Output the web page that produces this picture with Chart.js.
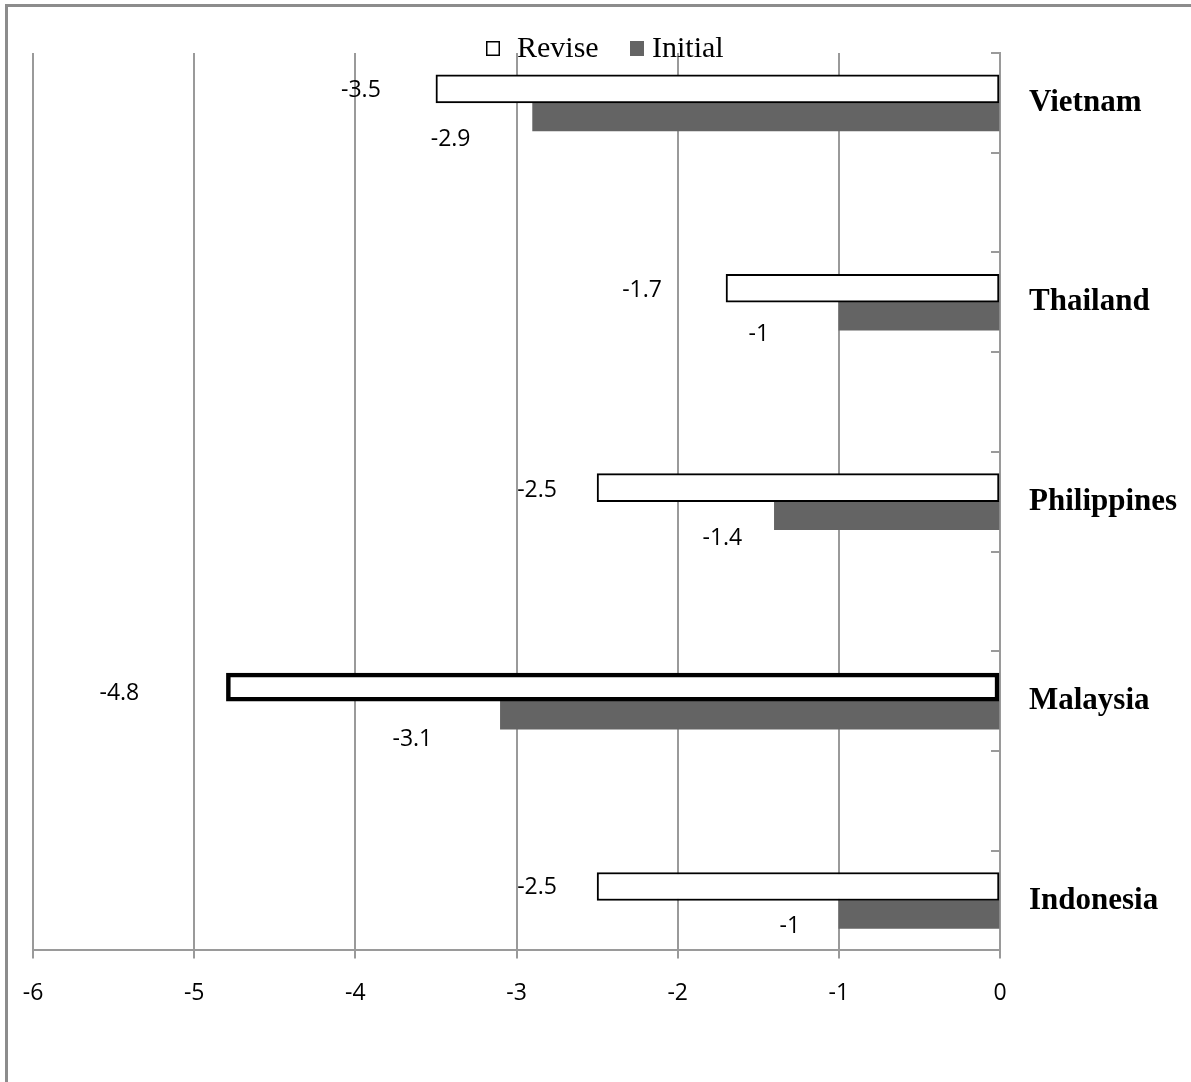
<!DOCTYPE html>
<html><head><meta charset="utf-8">
<script src="https://cdn.jsdelivr.net/npm/chart.js@4.4.1/dist/chart.umd.min.js"></script>
<style>
html,body{margin:0;padding:0;background:#fff;overflow:hidden;width:1191px;height:1082px;}
#c{position:absolute;left:0;top:0;}
#frame{position:absolute;left:5px;top:4px;width:1400px;height:1400px;border-left:3px solid #8c8c8c;border-top:3px solid #8c8c8c;pointer-events:none;}
</style></head><body>
<canvas id="c" width="1191" height="1082"></canvas>
<div id="frame"></div>
<script>
// ---- data ----
const countries = ['Vietnam', 'Thailand', 'Philippines', 'Malaysia', 'Indonesia'];
const reviseValues = [-3.5, -1.7, -2.5, -4.8, -2.5];
const initialValues = [-2.9, -1, -1.4, -3.1, -1];
const xTickValues = [-6, -5, -4, -3, -2, -1, 0];
const seriesNames = ['Revise', 'Initial'];
const highlightedCountry = 'Malaysia';

// ---- label placement (style: offsets from bar end / bar centre) ----
const reviseLabelOffsets = [[-75, 2], [-84, 2], [-60, 3], [-107, 6], [-60, 1]];
const initialLabelOffsets = [[-82, 23], [-80, 18], [-52, 23], [-88, 24], [-49, 12]];

// spread categories with blank slots in between (as in the original axis)
const slotLabels = [], reviseSlots = [], initialSlots = [], slotCountry = [];
countries.forEach((c, i) => {
  if (i > 0) { slotLabels.push(''); reviseSlots.push(null); initialSlots.push(null); slotCountry.push(-1); }
  slotLabels.push(c); reviseSlots.push(reviseValues[i]); initialSlots.push(initialValues[i]); slotCountry.push(i);
});

const GRID = '#9a9a9a';

const frameTicks = {
  id: 'frameTicks',
  afterDraw(chart) {
    const y = chart.scales.y, ctx = chart.ctx, n = slotLabels.length;
    ctx.save();
    ctx.strokeStyle = GRID; ctx.lineWidth = 2;
    for (let i = 0; i <= n; i++) {
      const py = Math.round(y.top + i * (y.bottom - y.top) / n);
      ctx.beginPath(); ctx.moveTo(y.left - 9, py); ctx.lineTo(y.left, py); ctx.stroke();
    }
    ctx.restore();
  }
};

const dataLabels = {
  id: 'dataLabels',
  afterDatasetsDraw(chart) {
    const ctx = chart.ctx;
    ctx.save();
    ctx.font = '23px "Open Sans"';
    ctx.fillStyle = '#000';
    ctx.textAlign = 'center';
    ctx.textBaseline = 'middle';
    chart.data.datasets.forEach((ds, di) => {
      const meta = chart.getDatasetMeta(di);
      const offs = di === 0 ? reviseLabelOffsets : initialLabelOffsets;
      meta.data.forEach((el, idx) => {
        const v = ds.data[idx];
        if (v === null) return;
        const o = offs[slotCountry[idx]];
        ctx.fillText(String(v), el.x + o[0], el.y + o[1]);
      });
    });
    ctx.restore();
  }
};

const customLegend = {
  id: 'customLegend',
  afterDraw(chart) {
    const ctx = chart.ctx;
    const boxX = [486, 630], textGap = [17, 8];
    ctx.save();
    ctx.font = '30px "Liberation Serif"';
    ctx.textBaseline = 'alphabetic';
    ctx.textAlign = 'left';
    chart.data.datasets.forEach((ds, i) => {
      const bx = boxX[i];
      ctx.fillStyle = ds.backgroundColor;
      ctx.fillRect(bx, 41, 14, 15);
      if (i === 0) { ctx.strokeStyle = '#000'; ctx.lineWidth = 1.5; ctx.strokeRect(bx + 0.75, 41.75, 12.5, 13.5); }
      ctx.fillStyle = '#000';
      ctx.fillText(ds.label, bx + 14 + textGap[i], 57);
    });
    ctx.restore();
  }
};

new Chart(document.getElementById('c'), {
  type: 'bar',
  data: {
    labels: slotLabels,
    datasets: [
      {
        label: seriesNames[0], data: reviseSlots,
        backgroundColor: '#ffffff', borderColor: '#000000',
        borderWidth: ctx => (slotLabels[ctx.dataIndex] === highlightedCountry ? 4.5 : 2),
        borderSkipped: false, barThickness: 28
      },
      {
        label: seriesNames[1], data: initialSlots,
        backgroundColor: '#646464', borderWidth: 0, barThickness: 28
      }
    ]
  },
  options: {
    indexAxis: 'y',
    responsive: false,
    animation: false,
    layout: { padding: { top: 53, left: 33, right: 0, bottom: 54 } },
    plugins: { legend: { display: false }, tooltip: { enabled: false } },
    scales: {
      x: {
        type: 'linear', min: -6, max: 0,
        afterBuildTicks: s => { s.ticks = xTickValues.map(v => ({ value: v })); },
        ticks: { font: { family: 'Open Sans', size: 23 }, color: '#000', padding: 21 },
        grid: { color: GRID, lineWidth: 2, tickLength: 8, drawTicks: true },
        border: { color: GRID, width: 2 }
      },
      y: {
        type: 'category', position: 'right', offset: true,
        grid: { display: false, drawTicks: false },
        border: { display: true, color: GRID, width: 2 },
        ticks: { autoSkip: false, padding: 29, color: '#000', font: { family: 'Liberation Serif', size: 31, weight: 'bold' } },
        afterFit: s => { s.width = 191; }
      }
    }
  },
  plugins: [frameTicks, dataLabels, customLegend]
});
</script>
</body></html>
